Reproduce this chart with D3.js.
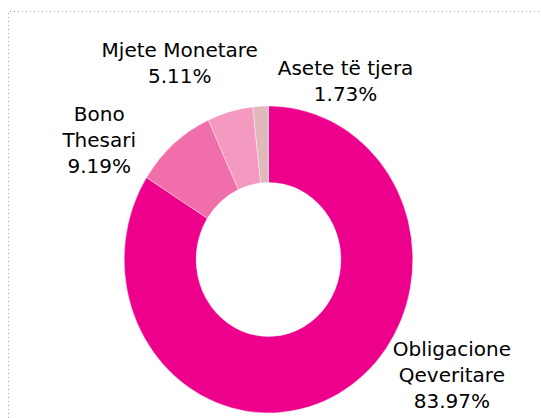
<!DOCTYPE html>
<html>
<head>
<meta charset="utf-8">
<script src="https://cdn.jsdelivr.net/npm/d3@7"></script>
<style>
  body { margin: 0; background: #fff; }
</style>
</head>
<body>
<script>
// te dhenat
var kategorite = [["Obligacione", "Qeveritare"], ["Bono", "Thesari"], ["Mjete Monetare"], ["Asete të tjera"]];
var vlerat = [83.97, 9.19, 5.11, 1.73];
var ngjyrat = ["#ec008c", "#f06ea9", "#f49ac1", "#dfb9bb"];

// zhvendosje e etiketave nga qendra e harkut (px)
var zhvendosje = [[104, -31], [-61, 19], [-45, -21], [86, 3]];

var width = 541, height = 418;
var cx = 268.5, cy = 259.5;
var rOut = 153.5, rIn = 77, sx = 0.94;
var lh = 26;

var svg = d3.select("body").append("svg")
  .attr("width", width)
  .attr("height", height)
  .attr("font-family", "DejaVu Sans, sans-serif")
  .attr("font-size", 20);

// kornize me pika
svg.append("path")
  .attr("d", `M8.5,${height}V11.5H${width}`)
  .attr("fill", "none")
  .attr("stroke", "#a0a0a0")
  .attr("stroke-width", 1)
  .attr("stroke-dasharray", "1,3");

var pie = d3.pie().sort(null).value(d => d);
var arcs = pie(vlerat);

var arc = d3.arc().innerRadius(rIn).outerRadius(rOut);
var labelArc = d3.arc().innerRadius(175).outerRadius(175);

svg.append("g")
  .attr("transform", `translate(${cx},${cy}) scale(${sx},1)`)
  .selectAll("path")
  .data(arcs)
  .join("path")
    .attr("d", arc)
    .attr("fill", (d, i) => ngjyrat[i])
    .attr("stroke", "#fff")
    .attr("stroke-width", 0.4);

var fmt = d3.format(".2f");

var lab = svg.append("g")
  .attr("text-anchor", "middle")
  .attr("fill", "#000")
  .selectAll("text")
  .data(arcs)
  .join("text")
  .attr("transform", (d, i) => {
    var c = labelArc.centroid(d);
    var x = cx + c[0] * sx + zhvendosje[i][0];
    var y = cy + c[1] + zhvendosje[i][1];
    return `translate(${x},${y})`;
  });

lab.each(function(d, i) {
  var rreshta = kategorite[i].concat([fmt(d.value) + "%"]);
  var y0 = -(rreshta.length - 1) * lh / 2;
  d3.select(this).selectAll("tspan")
    .data(rreshta)
    .join("tspan")
      .attr("x", 0)
      .attr("y", (t, k) => y0 + k * lh)
      .text(t => t);
});
</script>
</body>
</html>
